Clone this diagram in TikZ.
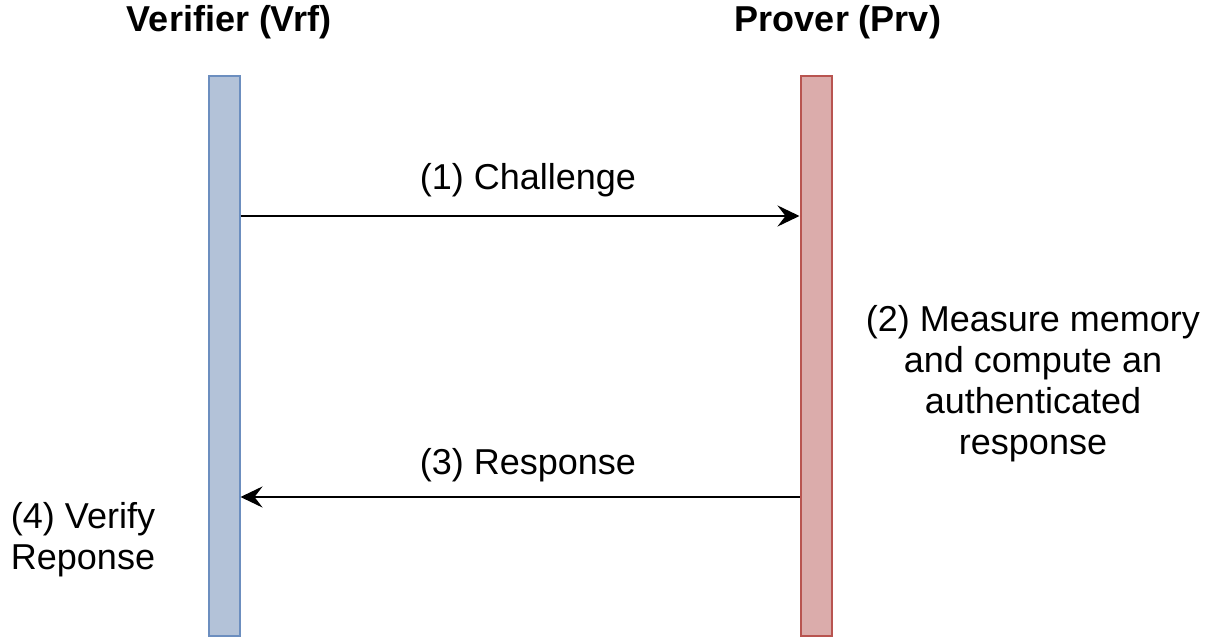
\documentclass[tikz,border=0pt]{standalone}
\usepackage{fontspec}
\setmainfont{Liberation Sans}
\usetikzlibrary{positioning, arrows.meta}

\definecolor{vrfFill}{RGB}{179,194,216}
\definecolor{vrfLine}{RGB}{108,142,191}
\definecolor{prvFill}{RGB}{219,172,171}
\definecolor{prvLine}{RGB}{184,84,80}

\begin{document}
\begin{tikzpicture}
% Style
[
    x=.5pt, y=-.5pt,
    every node/.style={font=\fontsize{18}{20.5}\selectfont},
    lane/.style={
        draw=#1Line, fill=#1Fill, line width=1pt, inner sep=0pt,
        minimum width=15.5pt, minimum height=280pt
    },
    title/.style={font=\fontsize{18}{20.5}\selectfont\bfseries, anchor=base},
    label/.style={anchor=base},
    note/.style={align=center},
    msg/.style={-{Stealth[length=11pt, width=10.5pt, inset=4pt]}, line width=1.3pt}
]
\useasboundingbox (0,0) rectangle (1220,640);

%=================================== Start ===================================
{
    % life lines
    \node[lane=vrf] (vrf) at (224,356) {};
    \node[lane=prv] (prv) at (816,356) {};

    \node[title] (vrf-title) at (229,32) {Verifier (Vrf)};
    \node[title] (prv-title) at (838,32) {Prover (Prv)};

    % messages
    \coordinate (vrf-1) at (vrf.east |- 0,216);
    \coordinate (prv-3) at (prv.west |- 0,497);
    \draw[msg] (vrf-1) -- (prv.west |- vrf-1);
    \draw[msg] (prv-3) -- (vrf.east |- prv-3);

    \node[label] (chal) at (528,190) {(1) Challenge};
    \node[label] (resp) at (528,475) {(3) Response};

    % local steps
    \node[note] (measure) at (1033,384) {(2) Measure memory\\and compute an\\authenticated\\response};
    \node[note] (verify) at (83,540) {(4) Verify\\Reponse};
}
%==================================== END ====================================

\end{tikzpicture}
\end{document}
